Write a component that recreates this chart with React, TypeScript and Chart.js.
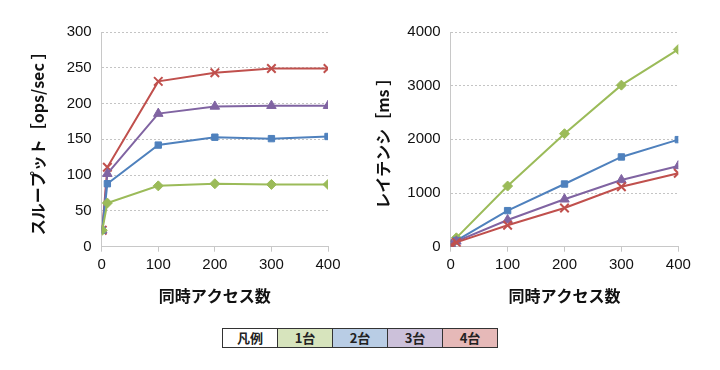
import React, { useEffect, useRef } from "react";
import { Chart, registerables } from "chart.js";

Chart.register(...registerables);

const xValues = [1, 10, 100, 200, 300, 400];
const seriesNames = ["1台", "2台", "3台", "4台"];
const throughput1 = [23, 61, 85, 88, 87, 87];
const throughput2 = [23, 88, 142, 153, 151, 154];
const throughput3 = [23, 102, 186, 196, 197, 197];
const throughput4 = [23, 111, 231, 243, 249, 249];
const latency1 = [40, 165, 1130, 2105, 3010, 3675];
const latency2 = [40, 115, 672, 1168, 1672, 1995];
const latency3 = [40, 100, 498, 884, 1244, 1505];
const latency4 = [30, 80, 400, 722, 1118, 1368];
const xTitle = "同時アクセス数";
const leftTitle = "スループット［ops/sec ］";
const rightTitle = "レイテンシ［ms ］";
const legendHead = "凡例";

const lineColors = ["#9BBB59", "#4F81BD", "#8064A2", "#C0504D"];
const cellColors = ["#D7E4BD", "#B9CDE5", "#CCC1DA", "#E6B9B8"];
const pointStyles = ["rectRot", "rect", "triangle", "crossRot"];
const pointRadii = [5, 4.5, 5.5, 6];

const tickFont = { family: "'Liberation Sans Narrow', 'Liberation Sans', Arial, sans-serif", size: 15 };
const titleFont = { family: "'Noto Sans CJK JP', sans-serif", size: 16, weight: "bold" as const };

function makeChart(
  canvas: HTMLCanvasElement,
  series: number[][],
  yMax: number,
  yStep: number,
  yTitle: string,
  padLeft: number,
  padRight: number,
  yWidth: number,
  order: number[]
) {
  return new Chart(canvas, {
    type: "line",
    data: {
      datasets: series.map((vals, i) => ({
        label: seriesNames[i],
        data: xValues.map((x, j) => ({ x, y: vals[j] })),
        borderColor: lineColors[i],
        backgroundColor: lineColors[i],
        borderWidth: 2,
        pointStyle: pointStyles[i] as any,
        pointRadius: pointRadii[i],
        pointBorderWidth: i === 3 ? 2 : 1,
        pointBorderColor: lineColors[i],
        pointBackgroundColor: lineColors[i],
        order: order[i],
        tension: 0,
      })),
    },
    options: {
      animation: false,
      responsive: false,
      layout: { padding: { left: padLeft, right: padRight, top: 32, bottom: 0 } },
      plugins: { legend: { display: false }, tooltip: { enabled: false } },
      scales: {
        x: {
          type: "linear",
          min: 0,
          max: 400,
          ticks: { stepSize: 100, font: tickFont, color: "#111", padding: 4, maxRotation: 0, callback: (v: any) => String(v) },
          grid: { drawOnChartArea: false, drawTicks: true, tickLength: 5, color: "#C8C8C8" },
          border: { color: "#C8C8C8", width: 1 },
          title: { display: true, text: xTitle, font: titleFont, color: "#111", padding: { top: 4, bottom: 4 } },
          afterFit: (s: any) => {
            s.height = 63.3;
          },
        },
        y: {
          type: "linear",
          min: 0,
          max: yMax,
          ticks: { stepSize: yStep, font: tickFont, color: "#111", padding: 10, callback: (v: any) => String(v) },
          grid: { drawTicks: false, color: "#C4C4C4", lineWidth: 1 },
          border: { color: "#C8C8C8", width: 1, dash: [2, 2] },
          title: { display: true, text: yTitle, font: titleFont, color: "#111", padding: { top: 4, bottom: 4 } },
          afterFit: (s: any) => {
            s.width = yWidth;
          },
        },
      },
    },
  });
}

export default function App() {
  const leftRef = useRef<HTMLCanvasElement | null>(null);
  const rightRef = useRef<HTMLCanvasElement | null>(null);

  useEffect(() => {
    const c1 = makeChart(
      leftRef.current!,
      [throughput1, throughput2, throughput3, throughput4],
      300,
      50,
      leftTitle,
      24,
      22,
      77.7,
      [0, 1, 2, 3]
    );
    const c2 = makeChart(
      rightRef.current!,
      [latency1, latency2, latency3, latency4],
      4000,
      1000,
      rightTitle,
      9,
      21.7,
      81.7,
      [3, 2, 1, 0]
    );
    return () => {
      c1.destroy();
      c2.destroy();
    };
  }, []);

  const cellStyle = (bg: string): React.CSSProperties => ({
    width: 54,
    height: 18,
    background: bg,
    border: "1px solid #333",
    textAlign: "center",
    verticalAlign: "middle",
    padding: 0,
    fontFamily: "'Noto Sans CJK JP', sans-serif",
    fontWeight: "bold",
    fontSize: 13,
    color: "#222",
    lineHeight: "18px",
  });

  return (
    <div style={{ position: "absolute", left: 0, top: 0, width: 720, height: 370, background: "#fff", overflow: "hidden" }}>
      <canvas ref={leftRef} width={350} height={310} style={{ position: "absolute", left: 0, top: 0 }} />
      <canvas ref={rightRef} width={340} height={310} style={{ position: "absolute", left: 360, top: 0 }} />
      <table
        style={{
          position: "absolute",
          left: 222,
          top: 328,
          borderCollapse: "collapse",
          tableLayout: "fixed",
        }}
      >
        <tbody>
          <tr>
            <td style={cellStyle("#fff")}>{legendHead}</td>
            {seriesNames.map((n, i) => (
              <td key={n} style={cellStyle(cellColors[i])}>
                {n}
              </td>
            ))}
          </tr>
        </tbody>
      </table>
    </div>
  );
}
